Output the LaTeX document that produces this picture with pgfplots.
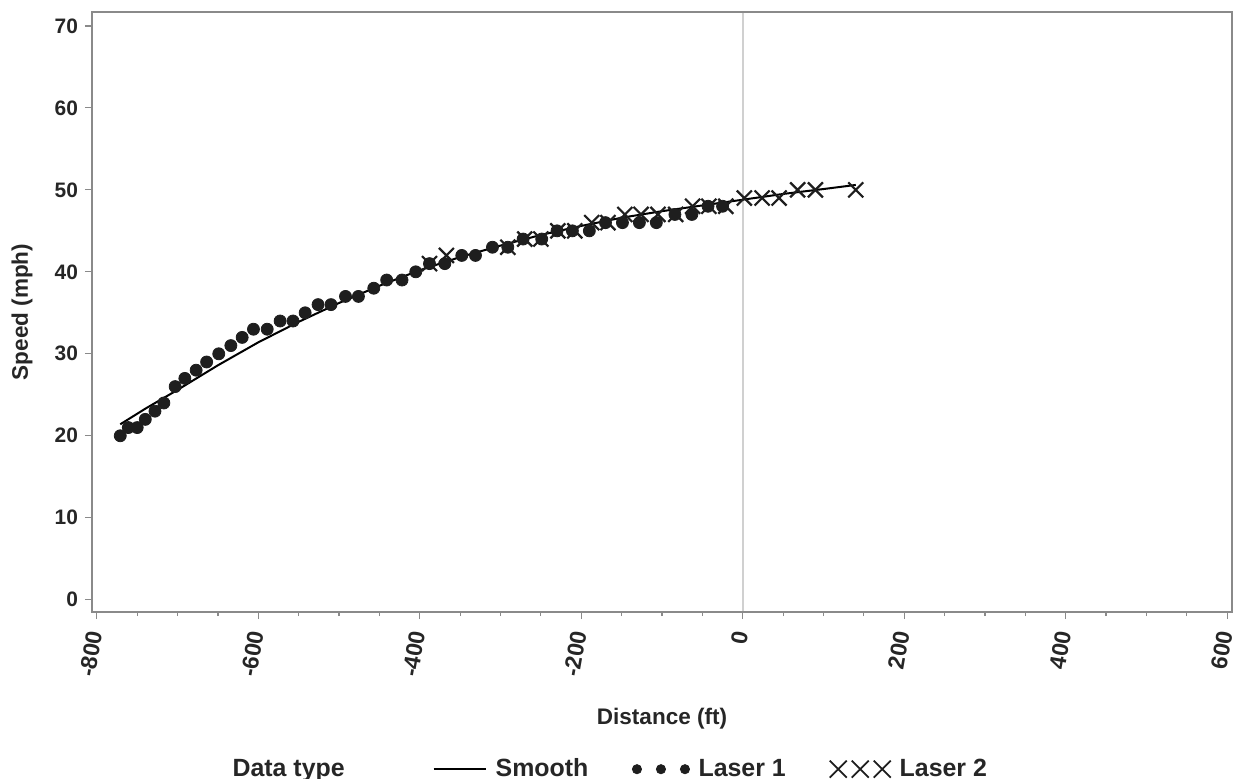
\documentclass[border=0pt]{standalone}
\usepackage{fontspec}
\setmainfont{Liberation Sans}
\usepackage{pgfplots}
\pgfplotsset{compat=1.18}
\usetikzlibrary{calc}

\definecolor{markcol}{HTML}{1E1E1E}
\definecolor{framecol}{HTML}{8A8A8A}
\definecolor{refcol}{HTML}{D0D0D0}

\begin{document}
\begin{tikzpicture}
\begin{axis}[
  name=ax,
  scale only axis,
  width=570bp, height=300bp,
  xmin=-806, xmax=606,
  ymin=-1.5, ymax=71.7,
  xtick={-800,-600,...,600},
  ytick={0,10,...,70},
  minor x tick num=3,
  axis line style={framecol, line width=0.6bp},
  tick style={framecol, line width=0.6bp},
  major tick length=3.5bp,
  minor tick length=2bp,
  tick align=outside,
  xtick pos=bottom, ytick pos=left,
  /pgf/number format/assume math mode=true,
  tick label style={font=\fontsize{10.5}{12}\selectfont\bfseries, text=black!85},
  x tick label style={font=\fontsize{11.5}{13}\selectfont\bfseries, rotate=80, anchor=east, inner sep=6bp},
  xlabel={Distance (ft)},
  ylabel={Speed (mph)},
  label style={font=\fontsize{11.3}{13}\selectfont\bfseries, text=black!85},
  x label style={at={(axis description cs:0.5,-0.177)}, anchor=center},
  y label style={at={(axis description cs:-0.0614,0.5)}, anchor=center, rotate=0},
  legend columns=-1,
  legend style={
    at={(axis description cs:0.452,-0.262)}, anchor=center,
    draw=none, fill=none,
    font=\fontsize{12.5}{14}\selectfont\bfseries,
    text=black!85,
    /tikz/every even column/.append style={column sep=20bp},
    /tikz/every odd column/.append style={column sep=2.5bp},
  },
]

% legend heading
\addlegendimage{empty legend}
\addlegendentry{Data type\rule{22bp}{0pt}}

% reference line at zero distance
\addplot[refcol, line width=0.8bp, forget plot] coordinates {(0,-1.5) (0,71.7)};

% smoothed speed profile
\addplot[black, line width=1bp,
  legend image code/.code={\draw[black, line width=1bp] (0bp,0bp) -- (26bp,0bp);}]
coordinates {
  (-771,21.4) (-740,23.3) (-700,25.6) (-650,28.6) (-600,31.4)
  (-550,33.9) (-500,36.2) (-450,38.3) (-400,40.2) (-350,41.8)
  (-300,43.2) (-250,44.5) (-200,45.6) (-150,46.6) (-100,47.4)
  (-50,48.1) (0,48.8) (50,49.5) (100,50.1) (140,50.6)
};
\addlegendentry{Smooth}

% laser gun 1
\addplot[only marks, mark=*, mark size=3bp, draw=markcol, fill=markcol,
  legend image code/.code={%
    \draw[only marks, mark=*, mark size=2.3bp, draw=markcol, fill=markcol]
      plot coordinates {(0bp,0bp) (12bp,0bp) (24bp,0bp)};}]
coordinates {
  (-771,20) (-761,21) (-750,21) (-740,22) (-728,23) (-717,24)
  (-703,26) (-691,27) (-677,28) (-664,29) (-649,30) (-634,31)
  (-620,32) (-606,33) (-589,33) (-573,34) (-557,34) (-542,35)
  (-526,36) (-510,36) (-492,37) (-476,37) (-457,38) (-441,39)
  (-422,39) (-405,40) (-388,41) (-369,41) (-348,42) (-331,42)
  (-310,43) (-291,43) (-272,44) (-249,44) (-230,45) (-211,45)
  (-190,45) (-170,46) (-149,46) (-128,46) (-107,46) (-84,47)
  (-63,47) (-43,48) (-25,48)
};
\addlegendentry{Laser 1}

% laser gun 2
\addplot[only marks, mark=x, mark size=5.3bp, draw=markcol, line width=1.1bp,
  legend image code/.code={%
    \draw[only marks, mark=x, mark size=6bp, draw=markcol, line width=0.9bp]
      plot coordinates {(0bp,0bp) (11bp,0bp) (22bp,0bp)};}]
coordinates {
  (-388,41) (-367,42) (-291,43) (-270,44) (-250,44) (-229,45)
  (-208,45) (-187,46) (-167,46) (-146,47) (-126,47) (-105,47)
  (-83,47) (-62,48) (-42,48) (-21,48) (2,49) (24,49) (45,49)
  (68,50) (90,50) (140,50)
};
\addlegendentry{Laser 2}

% plot frame redrawn on top
\draw[framecol, line width=0.6bp] (rel axis cs:0,0) rectangle (rel axis cs:1,1);
\end{axis}
\pgfresetboundingbox
\path[use as bounding box] ($(ax.south west)+(-46bp,-83.5bp)$) rectangle ($(ax.north east)+(4.5bp,6bp)$);
\end{tikzpicture}
\end{document}
